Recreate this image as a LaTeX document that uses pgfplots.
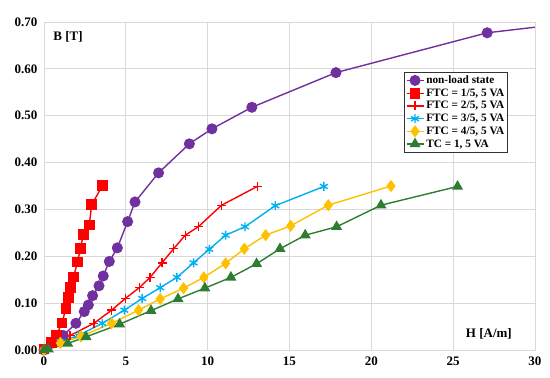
\documentclass[border=0pt]{standalone}
\usepackage{fontspec}
\setmainfont{Liberation Serif}
\usepackage{pgfplots}
\pgfplotsset{compat=1.18}
\definecolor{cpurple}{RGB}{112,48,160}
\definecolor{cred}{RGB}{255,0,0}
\definecolor{ccyan}{RGB}{0,176,240}
\definecolor{cyellow}{RGB}{255,192,0}
\definecolor{cgreen}{RGB}{46,125,50}
\definecolor{cgrid}{RGB}{217,217,217}
\begin{document}
\begin{tikzpicture}
\begin{axis}[
  scale only axis,
  width=491pt, height=328pt,
  xmin=0, xmax=30, ymin=0, ymax=0.70,
  xtick={0,5,...,30},
  ytick={0,0.1,...,0.7},
  /pgf/number format/assume math mode=true,
  yticklabel style={xshift=-3pt, /pgf/number format/fixed, /pgf/number format/fixed zerofill, /pgf/number format/precision=2},
  ticklabel style={font=\fontsize{13}{14}\selectfont\bfseries},
  xticklabel style={yshift=-3pt},
  major tick length=0pt,
  grid=major,
  major grid style={cgrid, line width=0.8pt},
  axis line style={cgrid, line width=0.8pt},
  every axis plot/.append style={line width=1.4pt},
  legend style={at={(0.733,0.848)}, anchor=north west, draw=black!80, line width=0.8pt,
    font=\fontsize{11.3}{12}\selectfont\bfseries, inner sep=1.5pt, row sep=-0.3pt,
    cells={anchor=west}},
  legend cell align=left,
]
\addplot[cpurple, mark=*, mark size=4.8pt, mark options={solid}] coordinates {
(0,0) (1.18,0.031) (1.95,0.057) (2.46,0.082) (2.71,0.096) (2.97,0.116)
(3.36,0.137) (3.62,0.158) (3.99,0.189) (4.48,0.218) (5.11,0.274) (5.56,0.316)
(7.0,0.378) (8.88,0.440) (10.26,0.472) (12.7,0.518) (17.84,0.592) (27.08,0.677) (31.5,0.695)};
\addlegendentry{non-load state}
\addplot[cred, mark=square*, mark size=4.6pt] coordinates {
(0,0.002) (0.47,0.016) (0.75,0.031) (1.10,0.058) (1.34,0.089) (1.51,0.112)
(1.63,0.134) (1.81,0.156) (2.04,0.188) (2.24,0.217) (2.40,0.247) (2.77,0.267)
(2.91,0.310) (3.58,0.351)};
\addlegendentry{FTC = 1/5, 5 VA}
\addplot[cred, mark=+, mark size=4.5pt, mark options={line width=1.4pt}] coordinates {
(0,0) (1.6,0.031) (3.05,0.057) (4.13,0.085) (4.97,0.110) (5.82,0.133)
(6.48,0.155) (7.21,0.186) (7.92,0.216) (8.63,0.245) (9.43,0.263) (10.85,0.309) (13.03,0.349)};
\addlegendentry{FTC = 2/5, 5 VA}
\addplot[ccyan, mark=asterisk, mark size=4.5pt, mark options={line width=1.4pt}] coordinates {
(0,0) (1.0,0.018) (2.1,0.031) (3.56,0.057) (4.91,0.085) (6.0,0.110)
(7.1,0.133) (8.12,0.155) (9.14,0.186) (10.1,0.215) (11.1,0.245) (12.28,0.263)
(14.13,0.308) (17.1,0.349)};
\addlegendentry{FTC = 3/5, 5 VA}
\addplot[cyellow, mark=diamond*, mark size=5pt] coordinates {
(0,0) (1.0,0.015) (2.26,0.029) (4.13,0.057) (5.78,0.085) (7.1,0.109)
(8.53,0.132) (9.77,0.155) (11.1,0.185) (12.24,0.216) (13.54,0.245) (15.07,0.265)
(17.37,0.309) (21.2,0.350)};
\addlegendentry{FTC = 4/5, 5 VA}
\addplot[cgreen, mark=triangle*, mark size=5pt] coordinates {
(0,0) (0.26,0.002) (1.45,0.014) (2.57,0.028) (4.62,0.055) (6.54,0.084)
(8.19,0.109) (9.83,0.132) (11.42,0.155) (12.99,0.184) (14.42,0.216) (15.96,0.245)
(17.88,0.263) (20.59,0.309) (25.27,0.349)};
\addlegendentry{TC = 1, 5 VA}
\node[anchor=west, font=\fontsize{13}{14}\selectfont\bfseries] at (rel axis cs:0.012,0.955) {B [T]};
\node[anchor=east, font=\fontsize{13}{14}\selectfont\bfseries] at (rel axis cs:0.96,0.05) {H [A/m]};
\end{axis}
\pgfresetboundingbox
\path[use as bounding box] (current axis.south west) ++(-44pt,-28pt) rectangle ++(550pt,378pt);
\end{tikzpicture}
\end{document}
